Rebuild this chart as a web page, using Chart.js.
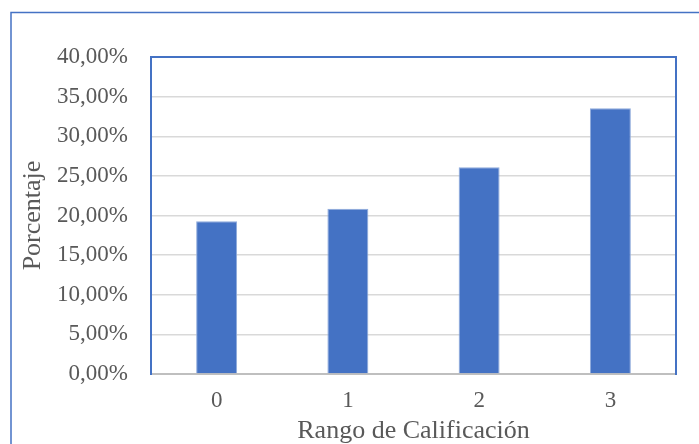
<!DOCTYPE html>
<html>
<head>
<meta charset="utf-8">
<script src="https://cdn.jsdelivr.net/npm/chart.js@4.4.0/dist/chart.umd.min.js"></script>
<style>
  html, body { margin: 0; padding: 0; background: #ffffff; }
  canvas { display: block; }
</style>
</head>
<body>
<canvas id="rango_chart" width="699" height="444"></canvas>
<script>
// 区分(横軸)
const categories = ['0', '1', '2', '3'];
// 各区分の割合(%)
const percentages = [19.27, 20.86, 26.08, 33.52];
// 縦軸の目盛り
const y_min = 0;
const y_max = 40;
const y_step = 5;

const blue = '#4472C4';
const text_color = '#595959';

// 外枠とプロット領域の枠を描く
const frame_plugin = {
    id: 'frame_plugin',
    afterDraw(chart) {
        const ctx = chart.ctx;
        const area = chart.chartArea;
        ctx.save();
        ctx.strokeStyle = blue;
        // 外枠
        ctx.lineWidth = 1.5;
        ctx.strokeRect(11, 12.5, 900, 900);
        // プロット領域(左・上・右)
        ctx.lineWidth = 2;
        ctx.beginPath();
        ctx.moveTo(area.left, area.bottom + 1);
        ctx.lineTo(area.left, area.top);
        ctx.lineTo(area.right, area.top);
        ctx.lineTo(area.right, area.bottom + 1);
        ctx.stroke();
        ctx.restore();
    }
};

const canvas = document.getElementById('rango_chart');
const ctx = canvas.getContext('2d');

new Chart(ctx, {
    type: 'bar',
    data: {
        labels: categories,
        datasets: [{
            label: 'Porcentaje',
            data: percentages,
            backgroundColor: blue,
            borderColor: '#8eaadb',
            borderWidth: 1,
            barPercentage: 0.312,
            categoryPercentage: 1
        }]
    },
    options: {
        responsive: false,
        animation: false,
        devicePixelRatio: 1,
        layout: {
            padding: { left: 0, top: 57, right: 23, bottom: 0 }
        },
        scales: {
            x: {
                grid: { display: false, drawTicks: false },
                border: { display: true, color: '#bfbfbf', width: 2 },
                ticks: {
                    color: text_color,
                    padding: 13,
                    font: { family: 'Liberation Serif', size: 23 }
                },
                title: {
                    display: true,
                    text: 'Rango de Calificación',
                    color: text_color,
                    padding: 0,
                    font: { family: 'Liberation Serif', size: 26, lineHeight: 1 }
                },
                afterFit(scale) {
                    scale.height = 70;
                }
            },
            y: {
                min: y_min,
                max: y_max,
                grid: { color: '#d9d9d9', lineWidth: 1.5, drawTicks: false },
                border: { display: false },
                ticks: {
                    stepSize: y_step,
                    color: text_color,
                    padding: 23,
                    font: { family: 'Liberation Serif', size: 23 },
                    callback: function(value) {
                        return value.toFixed(2).replace('.', ',') + '%';
                    }
                },
                title: {
                    display: true,
                    text: 'Porcentaje',
                    color: text_color,
                    padding: { top: 18, bottom: 0 },
                    font: { family: 'Liberation Serif', size: 26 }
                },
                afterFit(scale) {
                    scale.width = 151;
                }
            }
        },
        plugins: {
            legend: { display: false },
            tooltip: { enabled: false }
        }
    },
    plugins: [frame_plugin]
});
</script>
</body>
</html>
